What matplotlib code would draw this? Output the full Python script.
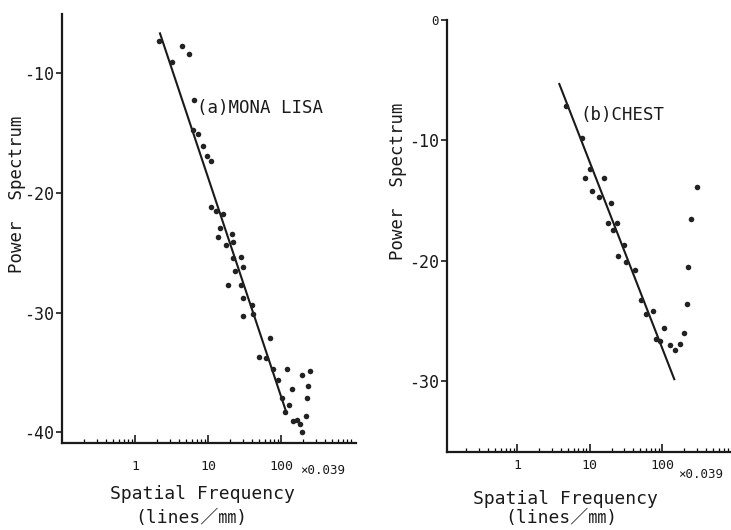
import matplotlib
matplotlib.use("Agg")
import matplotlib.pyplot as plt
from matplotlib.ticker import FixedLocator, LogLocator, NullFormatter

plt.rcParams['font.family'] = ['DejaVu Sans Mono', 'Noto Sans CJK JP']

# ---------------- data ----------------
# (a) MONA LISA
mona_x = [2.15, 3.18, 4.4, 5.55, 6.5, 6.17, 7.22, 8.46, 9.6, 10.9,
          10.9, 12.9, 16.2, 14.6, 13.7, 21.5, 17.6, 22.2, 21.8, 28.0,
          29.9, 23.4, 18.6, 28.0, 30.5, 39.7, 30.5, 40.9, 70.0, 49.5,
          62.3, 78.5, 90.1, 119.7, 103.2, 113.5, 130, 142.9, 194, 247,
          236.6, 225, 222, 147.3, 164, 183.7, 196]
mona_y = [-7.29, -9.07, -7.72, -8.42, -12.24, -14.76, -15.12, -16.09, -16.93, -17.37,
          -21.21, -21.49, -21.79, -22.91, -23.71, -23.41, -24.36, -24.08, -25.42, -25.36,
          -26.17, -26.5, -27.72, -27.67, -28.76, -29.37, -30.26, -30.12, -32.15, -33.68,
          -33.82, -34.71, -35.63, -34.73, -37.15, -38.27, -37.71, -36.38, -35.21, -34.85,
          -36.1, -37.15, -38.63, -39.02, -38.97, -39.32, -39.99]
mona_fit_x = [2.2, 119.7]
mona_fit_y = [-6.69, -38.41]

# (b) CHEST
chest_x = [4.72, 7.91, 10.1, 8.61, 15.9, 10.9, 13.3, 19.4, 17.6, 23.9,
           21.2, 29.2, 24.7, 31.9, 42.4, 50.4, 59.9, 73.6, 105.9, 81.7,
           92.7, 127.3, 150, 174.7, 198.2, 215.9, 228.6, 249, 296.6]
chest_y = [-7.14, -9.76, -12.41, -13.11, -13.16, -14.24, -14.71, -15.17, -16.84, -16.84,
           -17.46, -18.67, -19.65, -20.12, -20.79, -23.29, -24.42, -24.18, -25.64, -26.49,
           -26.65, -27.04, -27.47, -26.98, -26.04, -23.62, -20.52, -16.56, -13.88]
chest_fit_x = [3.82, 145.8]
chest_fit_y = [-5.30, -29.87]

x_ticks = [1, 10, 100]
x_tick_labels = ['1', '10', '100']
mona_yticks = [-10, -20, -30, -40]
chest_yticks = [0, -10, -20, -30]

W, H = 731, 530
fig = plt.figure(figsize=(W / 100, H / 100), dpi=100)
fig.patch.set_facecolor('white')

def px(x, y):
    return x / W, 1 - y / H

def style(ax, xlim, ylim, yticks, xpad):
    ax.set_xscale('log')
    ax.set_xlim(*xlim)
    ax.set_ylim(*ylim)
    for s in ['top', 'right']:
        ax.spines[s].set_visible(False)
    for s in ['left', 'bottom']:
        ax.spines[s].set_linewidth(1.6)
        ax.spines[s].set_color('#1a1a1a')
    ax.xaxis.set_major_locator(FixedLocator(x_ticks))
    ax.set_xticklabels(x_tick_labels)
    ax.xaxis.set_minor_locator(LogLocator(base=10, subs=range(2, 10), numticks=20))
    ax.xaxis.set_minor_formatter(NullFormatter())
    ax.tick_params(axis='x', which='major', direction='in', length=6, width=1.2,
                   pad=xpad, labelsize=9.5, colors='#1a1a1a')
    ax.tick_params(axis='x', which='minor', direction='in', length=3, width=0.9)
    ax.set_yticks(yticks)
    ax.set_yticklabels([str(v) for v in yticks])
    ax.tick_params(axis='y', direction='out', length=4, width=1.2, pad=2,
                   labelsize=12, colors='#1a1a1a')
    ax.set_facecolor('white')

# ---- left panel ----
axL = fig.add_axes([62 / W, 1 - 443 / H, 294 / W, (443 - 13.5) / H])
style(axL, (0.1, 1065), (-40.88, -5.03), mona_yticks, 12)
axL.plot(mona_fit_x, mona_fit_y, color='#1a1a1a', lw=1.5)
axL.scatter(mona_x, mona_y, s=16, color='#222222', zorder=3, linewidths=0)
fig.text(*px(197, 108), '(a)MONA LISA', fontsize=12.5, ha='left', va='center', color='#1a1a1a')

# ---- right panel ----
axR = fig.add_axes([447 / W, 1 - 452 / H, (731 - 447) / W, (452 - 20.3) / H])
style(axR, (0.109, 879), (-35.93, 0), chest_yticks, 5)
labs = axR.get_yticklabels()
labs[0].set_fontsize(9)
axR.plot(chest_fit_x, chest_fit_y, color='#1a1a1a', lw=1.5)
axR.scatter(chest_x, chest_y, s=16, color='#222222', zorder=3, linewidths=0)
fig.text(*px(580, 115), '(b)CHEST', fontsize=12.5, ha='left', va='center', color='#1a1a1a')

# ---- axis texts ----
fig.text(*px(300, 471), '×0.039', fontsize=9, ha='left', va='center', color='#1a1a1a')
fig.text(*px(678, 475), '×0.039', fontsize=9, ha='left', va='center', color='#1a1a1a')

fig.text(*px(202, 494), 'Spatial Frequency', fontsize=13, ha='center', va='center', color='#1a1a1a')
fig.text(*px(191, 518), '(lines／㎜)', fontsize=13, ha='center', va='center', color='#1a1a1a')
fig.text(*px(565, 499), 'Spatial Frequency', fontsize=13, ha='center', va='center', color='#1a1a1a')
fig.text(*px(561, 518), '(lines／㎜)', fontsize=13, ha='center', va='center', color='#1a1a1a')

fig.text(*px(17, 194), 'Power  Spectrum', fontsize=12.5, rotation=90, ha='center', va='center', color='#1a1a1a')
fig.text(*px(398, 181), 'Power  Spectrum', fontsize=12.5, rotation=90, ha='center', va='center', color='#1a1a1a')

fig.savefig('out.png', dpi=100, facecolor='white')
